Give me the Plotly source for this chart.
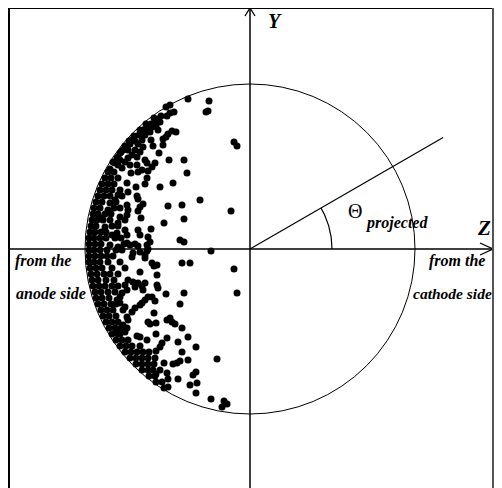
import numpy as np
import plotly.graph_objects as go

# ---- data: projected hit positions (Z, Y); circle radius = 165 units ----
DOTS_UPPER = [
    (-62, 150), (-41, 148), (-44, 137), (-42, 138), (-16, 107), (-13, 103), (-80, 144), (-84, 142),
    (-80, 136), (-76, 137), (-83, 133), (-89, 133), (-92, 130), (-95, 127), (-99, 125), (-102, 123),
    (-105, 120), (-108, 117), (-111, 114), (-90, 127), (-94, 123), (-98, 122), (-74, 117), (-78, 118),
    (-82, 115), (-84, 112), (-87, 110), (-99, 109), (-97, 103), (-87, 104), (-91, 96), (-115, 108),
    (-118, 109), (-120, 105), (-123, 102), (-127, 99), (-130, 96), (-133, 91), (-137, 87), (-115, 99),
    (-110, 97), (-118, 94), (-122, 91), (-125, 87), (-105, 89), (-103, 86), (-95, 86), (-98, 82),
    (-81, 89), (-66, 89), (-132, 84), (-128, 81), (-140, 80), (-112, 105), (-107, 102),
    (-96, 131), (-104, 125), (-110, 119), (-116, 113), (-121, 108), (-125, 103), (-129, 97),
    (-132, 92), (-135, 86), (-122, 99), (-113, 92), (-108, 109), (-105, 114), (-100, 117), (-92, 119),
    (-130, 89), (-120, 84), (-113, 84), (-108, 79),
]

DOTS_MID_UPPER = [
    (-63, 76), (-77, 66), (-90, 62), (-103, 71), (-105, 65), (-102, 78), (-112, 77), (-119, 76),
    (-114, 62), (-123, 66), (-122, 57), (-113, 53), (-112, 50), (-50, 49), (-19, 38), (-82, 43),
    (-68, 44), (-107, 45), (-110, 42), (-112, 38), (-123, 44), (-122, 39), (-123, 34), (-130, 32),
    (-132, 26), (-66, 30), (-86, 26), (-109, 31), (-99, 20), (-112, 19), (-110, 14), (-125, 19),
    (-123, 14), (-133, 16), (-138, 14), (-102, 12), (-100, 7), (-103, 4), (-102, 0), (-70, 9),
    (-66, 7), (-123, 6), (-120, 4), (-115, 5), (-112, 3), (-132, 2), (-140, 4), (-39, -2),
    (-143, -1), (-140, 46), (-142, 39), (-148, 31), (-145, 22), (-130, 59), (-132, 54), (-135, 49),
]

DOTS_EDGE_UPPER = [
    (-142, 77), (-136, 77), (-145, 71), (-139, 71), (-132, 71), (-148, 65), (-142, 65), (-136, 65),
    (-150, 59), (-144, 59), (-138, 59), (-152, 53), (-146, 53), (-140, 53), (-128, 53),
    (-154, 47), (-148, 47), (-134, 47), (-156, 41), (-150, 41), (-136, 41), (-130, 41),
    (-157, 35), (-152, 35), (-145, 35), (-139, 35), (-158, 29), (-153, 29), (-147, 29), (-140, 29),
    (-125, 29), (-159, 23), (-154, 23), (-138, 23), (-132, 23), (-160, 17), (-155, 17), (-149, 17),
    (-144, 17), (-161, 11), (-156, 11), (-150, 11), (-144, 11), (-135, 11), (-129, 11),
    (-161, 5), (-155, 5), (-149, 5), (-126, 5), (-161, -1), (-156, -1), (-150, -1), (-134, -1), (-128, -1),
]

DOTS_MID_LOWER = [
    (-68, -14), (-60, -14), (-16, -20), (-13, -44), (-66, -44), (-84, -45), (-70, -55), (-93, -16),
    (-93, -26), (-93, -36), (-92, -39), (-98, -48), (-95, -52), (-105, -34), (-108, -37), (-107, -41),
    (-112, -34), (-117, -33), (-115, -38), (-110, -23), (-105, -6), (-110, -3), (-103, -2), (-105, -9),
    (-117, -4), (-118, -8), (-98, -14), (-96, -17), (-122, -31), (-125, -36), (-123, -41), (-128, -44),
    (-130, -48), (-105, -51), (-108, -54), (-110, -56), (-115, -59), (-118, -63), (-102, -48),
    (-125, -58), (-127, -61), (-123, -68), (-96, -64), (-102, -73), (-100, -75), (-94, -74),
    (-83, -71), (-80, -69), (-78, -73), (-75, -75), (-68, -79), (-122, -71), (-123, -79), (-127, -76),
    (-133, -51), (-130, -54),
]

DOTS_EDGE_LOWER = [
    (-161, -7), (-155, -7), (-149, -7), (-143, -7), (-137, -7), (-161, -13), (-156, -13), (-150, -13),
    (-142, -13), (-130, -13), (-160, -19), (-154, -19), (-148, -19), (-138, -19), (-125, -19),
    (-159, -25), (-153, -25), (-146, -25), (-140, -25), (-132, -25), (-158, -31), (-152, -31),
    (-144, -31), (-136, -31), (-157, -37), (-151, -37), (-145, -37), (-138, -37), (-132, -37),
    (-155, -43), (-149, -43), (-142, -43), (-135, -43), (-154, -49), (-148, -49), (-141, -49),
    (-152, -55), (-146, -55), (-139, -55), (-134, -55), (-149, -61), (-143, -61), (-137, -61),
    (-147, -67), (-141, -67), (-134, -67), (-144, -73), (-138, -73), (-132, -73),
    (-141, -79), (-135, -79), (-129, -79),
]

DOTS_LOWER = [
    (-33, -110), (-26, -152), (-23, -155), (-28, -158), (-39, -150), (-54, -144), (-53, -134),
    (-60, -136), (-57, -126), (-54, -123), (-62, -111), (-68, -103), (-54, -98), (-62, -88),
    (-72, -93), (-83, -89), (-94, -85), (-88, -94), (-90, -98), (-94, -102), (-77, -115), (-73, -114),
    (-70, -112), (-86, -114), (-83, -124), (-82, -130), (-72, -130), (-82, -138), (-94, -125),
    (-97, -121), (-103, -91), (-110, -88), (-113, -87), (-125, -83), (-130, -85), (-133, -83),
    (-138, -85), (-132, -85), (-134, -91), (-128, -91), (-122, -91), (-130, -97), (-124, -97),
    (-118, -97), (-110, -97), (-125, -103), (-119, -103), (-113, -103), (-107, -103), (-101, -103),
    (-120, -109), (-114, -109), (-108, -109), (-102, -109), (-95, -109), (-114, -115), (-108, -115),
    (-102, -115), (-96, -115), (-108, -121), (-102, -121), (-90, -121), (-101, -127), (-95, -127),
    (-94, -133), (-88, -133), (-86, -139),
]

CIRCLE_R = 165
THETA_DEG = 30
RAY_LEN = 223
ARC_R = 82
X_RANGE = [-241, 243]
Y_RANGE = [-239, 241]

all_dots = DOTS_UPPER + DOTS_MID_UPPER + DOTS_EDGE_UPPER + DOTS_MID_LOWER + DOTS_EDGE_LOWER + DOTS_LOWER
z_vals = [p[0] for p in all_dots]
y_vals = [p[1] for p in all_dots]

SERIF = "Liberation Serif, Times New Roman, serif"

fig = go.Figure()

fig.add_trace(go.Scatter(
    x=z_vals, y=y_vals, mode="markers",
    marker=dict(size=7, color="black", line=dict(width=0)),
    hoverinfo="skip", cliponaxis=False,
))

th = np.radians(THETA_DEG)
t = np.linspace(0, th, 40)
fig.add_trace(go.Scatter(
    x=ARC_R * np.cos(t), y=ARC_R * np.sin(t), mode="lines",
    line=dict(color="black", width=1.2), hoverinfo="skip",
))

shapes = []
shapes.append(dict(type="circle", xref="x", yref="y", x0=-CIRCLE_R, x1=CIRCLE_R,
                   y0=-CIRCLE_R, y1=CIRCLE_R, line=dict(color="black", width=1)))
shapes.append(dict(type="line", xref="x", yref="y", x0=0, y0=0,
                   x1=RAY_LEN * np.cos(th), y1=RAY_LEN * np.sin(th), line=dict(color="black", width=1.2)))
shapes.append(dict(type="line", xref="x", yref="y", x0=X_RANGE[0], y0=0, x1=X_RANGE[1], y1=0,
                   line=dict(color="black", width=1.5)))
shapes.append(dict(type="line", xref="x", yref="y", x0=0, y0=Y_RANGE[0], x1=0, y1=Y_RANGE[1],
                   line=dict(color="black", width=1.5)))
shapes.append(dict(type="path", xref="x", yref="y",
                   path=f"M -5 {Y_RANGE[1]-8} L 0 {Y_RANGE[1]} L 5 {Y_RANGE[1]-8}",
                   line=dict(color="black", width=1.3)))
shapes.append(dict(type="path", xref="x", yref="y",
                   path=f"M {X_RANGE[1]-13} 6 L {X_RANGE[1]} 0 L {X_RANGE[1]-13} -6",
                   line=dict(color="black", width=1.3)))
shapes.append(dict(type="line", xref="paper", yref="paper", x0=0, y0=0, x1=0, y1=1,
                   line=dict(color="black", width=2)))
shapes.append(dict(type="line", xref="paper", yref="paper", x0=0, y0=1, x1=1, y1=1,
                   line=dict(color="black", width=2)))
shapes.append(dict(type="line", xref="paper", yref="paper", x0=1, y0=0, x1=1, y1=1,
                   line=dict(color="#555555", width=2)))

bi = dict(family=SERIF, color="black")
annotations = [
    dict(x=25, y=Y_RANGE[1], yanchor="top", text="<b><i>Y</i></b>", font=dict(size=20, **bi),
         showarrow=False),
    dict(x=234, y=21, text="<b><i>Z</i></b>", font=dict(size=21, **bi), showarrow=False),
    dict(x=-237, y=-12, text="<b><i>from the</i></b>", font=dict(size=16, **bi),
         showarrow=False, xanchor="left"),
    dict(x=-236, y=-44, text="<b><i>anode side</i></b>", font=dict(size=16, **bi),
         showarrow=False, xanchor="left"),
    dict(x=237, y=-12, text="<b><i>from the</i></b>", font=dict(size=16, **bi),
         showarrow=False, xanchor="right"),
    dict(x=1, xref="paper", y=-44, xshift=1, text="<b><i>cathode side</i></b>",
         font=dict(size=15.5, **bi), showarrow=False, xanchor="right"),
    dict(x=105, y=38, text="Θ", font=dict(size=20, family=SERIF, color="black"), showarrow=False),
    dict(x=113, y=26, text="<b><i>projected</i></b>", font=dict(size=16, **bi),
         showarrow=False, xanchor="left"),
]

# page body has an 8px margin, so the figure is sized/offset to land on the same pixels
fig.update_layout(
    width=494, height=480, autosize=False,
    margin=dict(l=1, r=9, t=0, b=0, pad=0),
    paper_bgcolor="white", plot_bgcolor="white",
    showlegend=False,
    xaxis=dict(range=X_RANGE, visible=False, fixedrange=True),
    yaxis=dict(range=Y_RANGE, visible=False, fixedrange=True),
    shapes=shapes, annotations=annotations,
)

fig.write_html("out.html")
